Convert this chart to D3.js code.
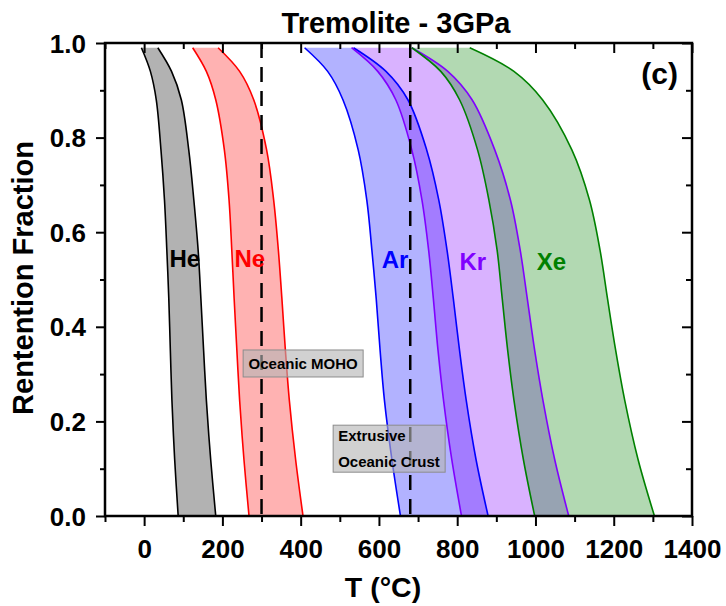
<!DOCTYPE html>
<html><head><meta charset="utf-8">
<script src="https://cdn.jsdelivr.net/npm/d3@7"></script>
<style>body{margin:0;background:#fff} text{font-family:"Liberation Sans",Arial,sans-serif;font-weight:bold}</style>
</head><body><svg id="c" width="726" height="606"></svg>
<script>
// Retention fraction levels (y) at which each curve's temperature (x, °C) was read
const fLevels = [0.99, 0.94, 0.88, 0.774, 0.668, 0.562, 0.46, 0.35, 0.245, 0.12, 0.0];
const He_lo = [-7, 16, 31, 43, 52, 58, 63, 67, 71, 78, 87];
const He_hi = [35, 70, 95, 114, 127, 138, 145, 152, 159, 170, 183];
const Ne_lo = [124, 159, 183, 205, 217, 224, 230, 237, 244, 255, 268];
const Ne_hi = [189, 244, 280, 313, 331, 343, 352, 361, 371, 387, 406];
const Ar_lo = [410, 469, 508, 547, 569, 582, 593, 603, 614, 633, 655];
const Ar_hi = [535, 618, 674, 722, 753, 774, 790, 806, 823, 848, 879];
const Kr_lo = [530, 597, 643, 684, 710, 727, 739, 751, 765, 786, 811];
const Kr_hi = [684, 776, 838, 896, 936, 961, 979, 998, 1019, 1049, 1085];
const Xe_lo = [684, 758, 806, 852, 881, 902, 915, 929, 945, 969, 998];
const Xe_hi = [832, 945, 1018, 1093, 1138, 1165, 1184, 1205, 1228, 1262, 1304];

const gases = ["He", "Ne", "Ar", "Kr", "Xe"];
const gasColors = ["#000000", "#ff0000", "#0000ff", "#8000ff", "#008000"];
const labelT = [104, 270, 641, 840, 1041];
const labelF = [0.527, 0.527, 0.524, 0.52, 0.52];

const refLines = [300, 680];
const xMajor = [0, 200, 400, 600, 800, 1000, 1200, 1400];
const yMajor = [0, 0.2, 0.4, 0.6, 0.8, 1.0];

const svg = d3.select("#c");
const x = d3.scaleLinear().domain([-100, 1400]).range([105, 692]);
const y = d3.scaleLinear().domain([0, 1]).range([516, 43]);

const series = [
  [He_lo, He_hi], [Ne_lo, Ne_hi], [Ar_lo, Ar_hi], [Kr_lo, Kr_hi], [Xe_lo, Xe_hi]
].map((p, i) => ({
  name: gases[i], color: gasColors[i],
  pts: fLevels.map((f, j) => ({ f, lo: p[0][j], hi: p[1][j] }))
}));

svg.append("defs").append("clipPath").attr("id", "clip")
  .append("rect").attr("x", x(-100)).attr("y", y(1)).attr("width", x(1400) - x(-100)).attr("height", y(0) - y(1));

const plot = svg.append("g").attr("clip-path", "url(#clip)");
const curve = d3.curveCatmullRom.alpha(0.5);

const area = d3.area().y(d => y(d.f)).x0(d => x(d.lo)).x1(d => x(d.hi)).curve(curve);
plot.selectAll("path.band").data(series).join("path").attr("class", "band")
  .attr("d", d => area(d.pts)).attr("fill", d => d.color).attr("fill-opacity", 0.3).attr("stroke", "none");

const lineLo = d3.line().y(d => y(d.f)).x(d => x(d.lo)).curve(curve);
const lineHi = d3.line().y(d => y(d.f)).x(d => x(d.hi)).curve(curve);
series.forEach(s => {
  plot.append("path").attr("d", lineLo(s.pts)).attr("fill", "none").attr("stroke", s.color).attr("stroke-width", 1.6);
  plot.append("path").attr("d", lineHi(s.pts)).attr("fill", "none").attr("stroke", s.color).attr("stroke-width", 1.6);
});

plot.selectAll("line.ref").data(refLines).join("line").attr("class", "ref")
  .attr("x1", d => x(d)).attr("x2", d => x(d)).attr("y1", y(1)).attr("y2", y(0))
  .attr("stroke", "#000").attr("stroke-width", 2.5).attr("stroke-dasharray", "15,9");

// gas labels
svg.selectAll("text.gas").data(series).join("text").attr("class", "gas")
  .attr("x", (d, i) => x(labelT[i])).attr("y", (d, i) => y(labelF[i]))
  .attr("text-anchor", "middle").attr("font-size", 24).attr("fill", d => d.color).text(d => d.name);

// annotation boxes
const boxes = [
  { t: 253, f: 0.351, w: 120, h: 27, lines: ["Oceanic MOHO"], anchor: "middle" },
  { t: 483, f: 0.192, w: 112, h: 47, lines: ["Extrusive", "Oceanic Crust"], anchor: "start" }
];
boxes.forEach(b => {
  const bx = x(b.t), by = y(b.f);
  svg.append("rect").attr("x", bx).attr("y", by).attr("width", b.w).attr("height", b.h)
    .attr("fill", "#b4b4b4").attr("fill-opacity", 0.62).attr("stroke", "#8c8c8c").attr("stroke-width", 1);
  b.lines.forEach((t, k) => {
    svg.append("text").attr("x", b.anchor === "middle" ? bx + b.w / 2 : bx + 5)
      .attr("y", b.lines.length === 1 ? by + 19 : by + 16 + k * 26)
      .attr("text-anchor", b.anchor).attr("font-size", 15).attr("fill", "#000").text(t);
  });
});

// axes
const xMinor = d3.range(-100, 1401, 100).filter(v => !xMajor.includes(v));
const yMinor = d3.range(1, 10, 2).map(v => v / 10);
const gBottom = svg.append("g").attr("transform", `translate(0,${y(0)})`);
gBottom.call(d3.axisBottom(x).tickValues(xMajor).tickSize(10).tickSizeOuter(0).tickFormat(d3.format("d")));
gBottom.append("g").call(d3.axisBottom(x).tickValues(xMinor).tickSize(6).tickSizeOuter(0).tickFormat(""));
const gTop = svg.append("g").attr("transform", `translate(0,${y(1)})`);
gTop.call(d3.axisTop(x).tickValues(xMajor).tickSize(-10).tickSizeOuter(0).tickFormat(""));
gTop.append("g").call(d3.axisTop(x).tickValues(xMinor).tickSize(-6).tickSizeOuter(0).tickFormat(""));
const gLeft = svg.append("g").attr("transform", `translate(${x(-100)},0)`);
gLeft.call(d3.axisLeft(y).tickValues(yMajor).tickSize(9).tickSizeOuter(0).tickFormat(d3.format(".1f")));
gLeft.append("g").call(d3.axisLeft(y).tickValues(yMinor).tickSize(5).tickSizeOuter(0).tickFormat(""));
const gRight = svg.append("g").attr("transform", `translate(${x(1400)},0)`);
gRight.call(d3.axisRight(y).tickValues(yMajor).tickSize(-10).tickSizeOuter(0).tickFormat(""));
gRight.append("g").call(d3.axisRight(y).tickValues(yMinor).tickSize(-6).tickSizeOuter(0).tickFormat(""));

svg.selectAll(".domain").remove();
svg.selectAll(".tick line").attr("stroke", "#000").attr("stroke-width", 2);
gBottom.selectAll(".tick text").attr("font-size", 26).attr("font-family", "Liberation Sans, Arial, sans-serif")
  .attr("font-weight", "bold").attr("fill", "#000").attr("dy", null).attr("y", 42);
gLeft.selectAll(".tick text").attr("font-size", 26).attr("font-family", "Liberation Sans, Arial, sans-serif")
  .attr("font-weight", "bold").attr("fill", "#000").attr("x", -19).attr("dy", "0.35em");

svg.append("rect").attr("x", x(-100)).attr("y", y(1)).attr("width", x(1400) - x(-100)).attr("height", y(0) - y(1))
  .attr("fill", "none").attr("stroke", "#000").attr("stroke-width", 2.5);

// titles
svg.append("text").attr("x", 396).attr("y", 33).attr("text-anchor", "middle").attr("font-size", 29).text("Tremolite - 3GPa");
svg.append("text").attr("x", 383).attr("y", 597).attr("text-anchor", "middle").attr("font-size", 28.5).text("T (°C)");
svg.append("text").attr("transform", "translate(33,278) rotate(-90)").attr("text-anchor", "middle").attr("font-size", 29).text("Rentention Fraction");
svg.append("text").attr("x", 678).attr("y", 84).attr("text-anchor", "end").attr("font-size", 30).text("(c)");
</script></body></html>
